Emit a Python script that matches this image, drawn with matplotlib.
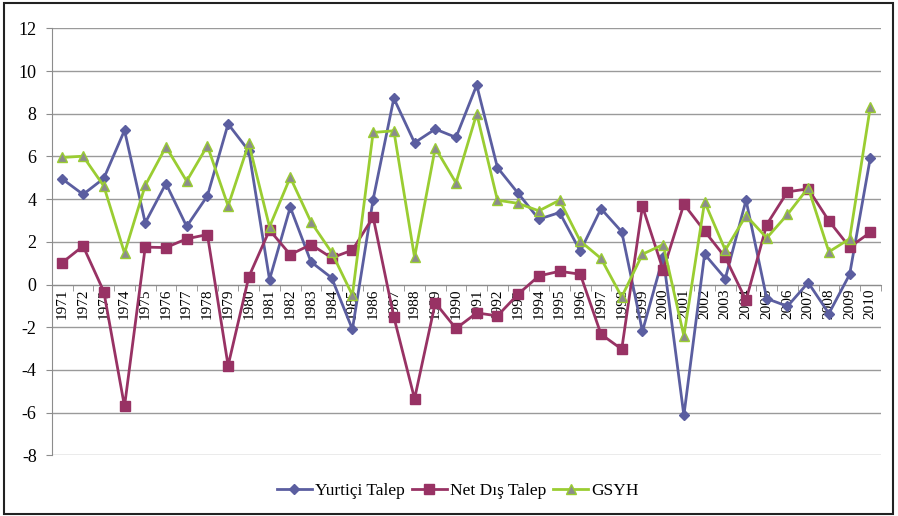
import matplotlib.pyplot as plt
from matplotlib.patches import Rectangle
from matplotlib.ticker import MultipleLocator

# veriler
years = [str(y) for y in range(1971, 2011)]
yurtici = [4.94, 4.22, 4.97, 7.22, 2.89, 4.73, 2.72, 4.15, 7.52, 6.26,
           0.23, 3.62, 1.06, 0.31, -2.1, 3.98, 8.72, 6.64, 7.28, 6.89,
           9.34, 5.48, 4.27, 3.06, 3.37, 1.56, 3.55, 2.47, -2.19, 1.29,
           -6.13, 1.42, 0.28, 3.95, -0.66, -1.02, 0.09, -1.36, 0.47, 5.94]
net_dis = [1.03, 1.8, -0.33, -5.71, 1.75, 1.73, 2.14, 2.34, -3.8, 0.36,
           2.55, 1.4, 1.87, 1.25, 1.61, 3.16, -1.52, -5.35, -0.86, -2.06,
           -1.33, -1.47, -0.45, 0.4, 0.62, 0.48, -2.33, -3.03, 3.66, 0.67,
           3.76, 2.5, 1.27, -0.74, 2.81, 4.34, 4.48, 2.98, 1.75, 2.44]
gsyh = [5.95, 6.01, 4.61, 1.47, 4.64, 6.45, 4.84, 6.5, 3.68, 6.61,
        2.7, 5.02, 2.93, 1.5, -0.5, 7.12, 7.2, 1.27, 6.4, 4.76,
        8.0, 3.95, 3.8, 3.45, 3.95, 2.03, 1.22, -0.58, 1.42, 1.87,
        -2.41, 3.87, 1.61, 3.23, 2.18, 3.28, 4.53, 1.53, 2.14, 8.33]

plt.rcParams['font.family'] = ['Liberation Serif', 'DejaVu Serif']
plt.rcParams['axes.unicode_minus'] = False

fig = plt.figure(figsize=(8.98, 5.16), dpi=100)
ax = fig.add_axes([52/898, 1-455.3/516, 828.7/898, 427/516])

x = list(range(len(years)))
ax.plot(x, yurtici, color='#5B5EA0', lw=2, marker='D', ms=5.5,
        mfc='#5B5EA0', mec='#5B5EA0', label='Yurtiçi Talep', zorder=3)
ax.plot(x, net_dis, color='#983264', lw=2, marker='s', ms=7,
        mfc='#983264', mec='#983264', label='Net Dış Talep', zorder=3)
ax.plot(x, gsyh, color='#9ACD32', lw=2, marker='^', ms=7.5,
        mfc='#8C8C8C', mec='#9ACD32', mew=1, label='GSYH', zorder=3)

ax.set_xlim(-0.5, len(years)-0.5)
ax.set_ylim(-8, 12)
ax.yaxis.set_major_locator(MultipleLocator(2))
ax.grid(axis='y', color='#9A9A9A', lw=1)
ax.set_axisbelow(True)

for s in ['top', 'right']:
    ax.spines[s].set_visible(False)
ax.spines['left'].set_color('#8C8C8C')
ax.spines['bottom'].set_position(('data', 0))
ax.spines['bottom'].set_color('#8C8C8C')

ax.set_xticks(x)
ax.set_xticklabels(years, rotation=90, fontsize=11)
ax.set_xticks([i - 0.5 for i in range(len(years)+1)], minor=True)
ax.tick_params(axis='x', which='major', length=0, pad=3)
ax.tick_params(axis='x', which='minor', length=4, color='#8C8C8C')
ax.tick_params(axis='y', length=4, color='#8C8C8C', labelsize=13, pad=7)

fig.legend(loc='center', bbox_to_anchor=(458/898, 1-491/516), ncol=3,
           frameon=False, fontsize=12.5, handlelength=2.0, columnspacing=0.4,
           handletextpad=0.2)

fig.patches.append(Rectangle((4/898, 2/516), 889/898, 511/516, fill=False,
                             ec='#222222', lw=1.5, transform=fig.transFigure))

fig.savefig('out.png', dpi=100)
